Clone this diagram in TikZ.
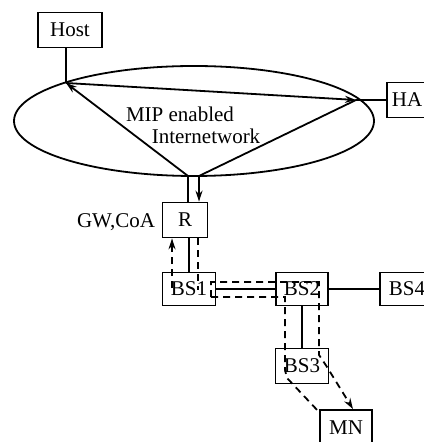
\documentclass[tikz,border=0pt]{standalone}
\usepackage{fontspec}
\setmainfont{Liberation Serif}
\usetikzlibrary{arrows.meta}

\tikzset{
  route/.style={dash pattern=on 3.5pt off 2.5pt},
  >={Stealth[length=5.5pt,width=3.5pt]}
}

\begin{document}
\begin{tikzpicture}[x=0.5pt,y=-0.5pt,line width=0.9pt,font=\fontsize{10.5}{12}\selectfont]

      \useasboundingbox (0,0) rectangle (423,442);

      % the internetwork
      \draw (194,121) ellipse [x radius=180, y radius=55];
      \node (mip)  at (180,114) {MIP enabled};
      \node (inet) at (206,136) {Internetwork};
      \node (gw)   at (116,222) {GW,CoA};

      \begin{scope}[every node/.style={rectangle,draw,inner sep=0pt,minimum height=17.5pt}]
        \node[minimum width=32pt]   (host) at (70,30)    {Host};
        \node[minimum width=20pt]   (ha)   at (407,100)  {HA};
        \node[minimum width=22.5pt] (r)    at (185,220)  {R};
        \node[minimum width=26.5pt,minimum height=16.5pt] (bs1) at (189,289) {BS1};
        \node[minimum width=26pt,minimum height=16.5pt]   (bs2) at (302,289) {BS2};
        \node[minimum width=27pt,minimum height=16.5pt]   (bs4) at (407,289) {BS4};
        \node[minimum width=26.5pt] (bs3)  at (302,366) {BS3};
        \node[minimum width=26pt,minimum height=18pt] (mn) at (346,428) {MN};
      \end{scope}

      \coordinate (hostpt) at (66,83);
      \coordinate (hapt)   at (356,100);
      \coordinate (rl)     at (188,176);
      \coordinate (rr)     at (199,176);

      \begin{scope}[every edge/.style={draw}]
        \path (host.south -| hostpt) edge (hostpt);
        \path (hapt) edge (hapt -| ha.west);
        \path (hostpt) edge[->] (hapt);
        \path (rl) edge[->] (hostpt);
        \path (rr) edge (hapt);
        \path (rl) edge (rl |- r.north);
        \path (rr) edge[->] (rr |- r.north);
        \path ([xshift=2pt]r.south) edge ([xshift=0pt]bs1.north);
        \path (bs1.east) edge (bs2.west);
        \path (bs2.east) edge (bs4.west);
        \path (bs2.south) edge (bs3.north);
      \end{scope}

      % paths of the packets
      \coordinate (up1) at (172,288);
      \coordinate (dn1) at (198,290);
      \coordinate (a1) at (211,297);
      \coordinate (a2) at (211,282);
      \coordinate (a3) at (319,282);
      \coordinate (a4) at (319,355);
      \coordinate (a5) at (327,367);
      \coordinate (b1) at (285,297);
      \coordinate (b2) at (285,370);
      \coordinate (b3) at (287,378);

      \draw[route,->] (up1) -- (up1 |- r.south);
      \draw[route] ([xshift=6.5pt]r.south) -- (dn1);
      \draw[route,->] (a1) -- (a2) -- (a3) -- (a4) -- (a5) -- ([xshift=3.5pt]mn.north);
      \draw[route] (a1) -- (b1) -- (b2) -- (b3) -- ([yshift=-1.5pt]mn.north west);

    \end{tikzpicture}
\end{document}
